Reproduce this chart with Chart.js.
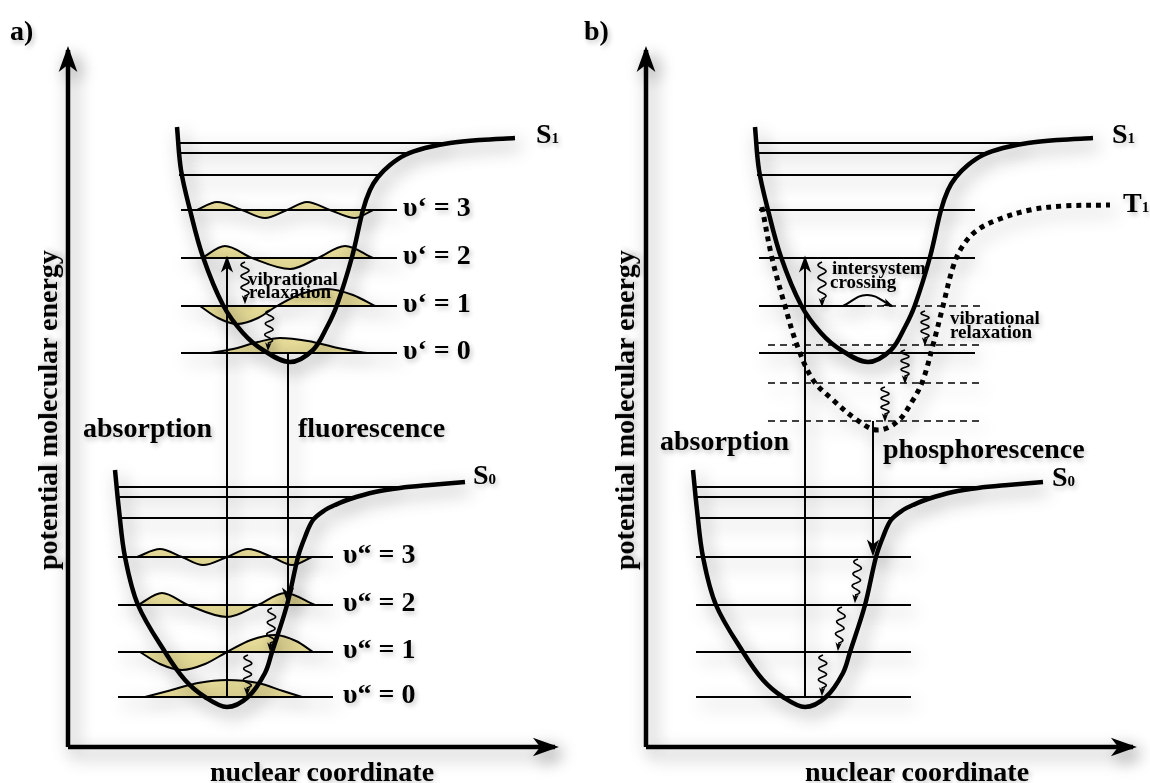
<!DOCTYPE html>
<html>
<head>
<meta charset="utf-8">
<script src="https://cdn.jsdelivr.net/npm/chart.js@4.4.1/dist/chart.umd.min.js"></script>
<style>
  html, body { margin: 0; padding: 0; background: #fff; }
  #wrap { position: relative; width: 1150px; height: 783px; overflow: hidden; background: #fff; }
  canvas { position: absolute; top: 0; }
  #chartA { left: 0; }
  #chartB { left: 578px; }
  .t { position: absolute; font: bold 28px "Liberation Serif", "Times New Roman", serif; line-height: 1;
       white-space: nowrap; color: #000; text-shadow: 2px 3px 5px rgba(0,0,0,0.22); }
  .t sub { font-size: 15px; vertical-align: baseline; }
  .small { font-size: 19px; }
  .rot { transform: translate(-50%, -50%) rotate(-90deg); }
  .cx { transform: translateX(-50%); }
</style>
</head>
<body>
<div id="wrap">
  <canvas id="chartA" width="578" height="783"></canvas>
  <canvas id="chartB" width="572" height="783"></canvas>

  <div class="t" style="left:10px;top:17px">a)</div>
  <div class="t" style="left:584px;top:17px">b)</div>
  <div class="t rot" style="left:48px;top:410px">potential molecular energy</div>
  <div class="t rot" style="left:625px;top:410px">potential molecular energy</div>
  <div class="t cx" style="left:322px;top:758px">nuclear coordinate</div>
  <div class="t cx" style="left:917px;top:758px">nuclear coordinate</div>

  <div class="t" style="left:536px;top:120px">S<sub>1</sub></div>
  <div class="t" style="left:473px;top:461px">S<sub>0</sub></div>
  <div class="t" style="left:1112px;top:120px">S<sub>1</sub></div>
  <div class="t" style="left:1052px;top:463px">S<sub>0</sub></div>
  <div class="t" style="left:1123px;top:189px">T<sub>1</sub></div>

  <div class="t" style="left:403px;top:193px">υ‘ = 3</div>
  <div class="t" style="left:403px;top:241px">υ‘ = 2</div>
  <div class="t" style="left:403px;top:289px">υ‘ = 1</div>
  <div class="t" style="left:403px;top:336px">υ‘ = 0</div>
  <div class="t" style="left:343px;top:540px">υ“ = 3</div>
  <div class="t" style="left:343px;top:588px">υ“ = 2</div>
  <div class="t" style="left:343px;top:635px">υ“ = 1</div>
  <div class="t" style="left:343px;top:680px">υ“ = 0</div>

  <div class="t" style="left:83px;top:414px">absorption</div>
  <div class="t" style="left:298px;top:414px">fluorescence</div>
  <div class="t" style="left:660px;top:427px">absorption</div>
  <div class="t" style="left:883px;top:435px">phosphorescence</div>

  <div class="t small" style="left:248px;top:269px">vibrational</div>
  <div class="t small" style="left:249px;top:282px">relaxation</div>
  <div class="t small" style="left:832px;top:258px">intersystem</div>
  <div class="t small" style="left:830px;top:272px">crossing</div>
  <div class="t small" style="left:950px;top:308px">vibrational</div>
  <div class="t small" style="left:950px;top:322px">relaxation</div>
</div>

<script>
// potential curves: [nuclear coordinate, energy]
const s1Curve = [[109,620],[113,577],[122,537],[135,490],[155,442],[175,414],[195,397],[222,385],[245,397],
  [259,420],[269,442],[284,490],[295,537],[302,557],[310,570],[322,582],[337,592],[357,599],[382,604],[412,607],[447,609]];
const s0Curve = [[47,277],[51,237],[57,190],[70,142],[97,95],[117,67],[137,50],[159,40],[180,50],[197,74],
  [204,95],[219,142],[230,190],[237,210],[245,227],[257,237],[267,242],[282,248],[307,255],[332,259],[362,262],[397,265]];
const t1Curve = [[116,540],[126,489],[139,441],[151,402],[167,367],[187,347],[211,327],[231,317],[251,325],
  [267,347],[277,367],[287,402],[297,441],[307,480],[316,500],[330,516],[351,527],[384,537],[417,541],[464,542]];

// vibrational levels (energy) and line extents
const s1Levels = [394, 441, 489, 537];          // υ' = 0..3
const s1Span = [113, 329];
const s1UpperLevels = [572, 594, 604];
const s1UpperEnds = [310, 340, 380];
const s0Levels = [50, 95, 142, 190];            // υ" = 0..3
const s0Span = [50, 265];
const s0UpperLevels = [229, 250, 260];
const s0UpperEnds = [249, 290, 330];
const t1Levels = [326, 364, 402];               // dashed triplet levels (panel b)
const t1Span = [122, 337];

// wavefunctions: [coordinate, amplitude above level]
const s1Waves = [
  [[142,0],[165,4],[190,11],[212,15],[240,12],[270,5],[299,0]],
  [[132,0],[150,-12],[169,-18],[190,-12],[209,0],[233,12],[259,17],[285,11],[307,0]],
  [[134,0],[157,12],[184,0],[222,-11],[250,0],[277,12],[305,0]],
  [[129,0],[149,8],[174,0],[197,-8],[219,0],[239,8],[262,0],[287,-8],[305,0]]
];
const s0Waves = [
  [[77,0],[100,6],[130,14],[159,17],[190,14],[215,6],[234,0]],
  [[72,0],[92,-12],[114,-18],[137,-12],[159,0],[183,12],[207,17],[228,11],[245,0]],
  [[70,0],[94,12],[120,0],[159,-12],[190,0],[217,12],[247,0]],
  [[69,0],[92,8],[114,0],[135,-8],[159,0],[180,8],[204,0],[224,-8],[244,0]]
];

// transitions
const axisY = [[0,0],[0,697]];
const axisX = [[0,0],[487,0]];
const absorptionA = [[159,50],[159,489]];
const fluorescence = [[220,394],[220,145]];
const absorptionB = [[159,50],[159,489]];
const phosphorescence = [[227,326],[227,193]];
const iscArc = [[197,441],[221,452],[246,441]];
// wavy relaxation arrows: [x1, y1, x2, y2]
const relaxA = [[177,485,177,444],[202,437,200,397],[204,139,202,97],[180,92,179,52]];
const relaxB = [[176,485,176,441],[279,436,279,402],[259,397,259,364],[239,360,239,326],
  [212,188,209,145],[196,140,192,97],[177,92,176,52]];

const YELLOW = '#efe49e';
const pts = arr => arr.map(([x, y]) => ({x, y}));

function line(data, opts) {
  return Object.assign({data: pts(data), showLine: true, borderColor: '#000', borderWidth: 2,
    pointRadius: 0, fill: false, clip: false}, opts);
}

function drawHead(ctx, x0, y0, x1, y1, len, color) {
  const a = Math.atan2(y1 - y0, x1 - x0);
  ctx.save();
  ctx.translate(x1, y1);
  ctx.rotate(a);
  ctx.beginPath();
  const tip = len * 0.15;
  ctx.moveTo(tip, 0);
  ctx.lineTo(tip - len, -len * 0.36);
  ctx.lineTo(tip - len * 0.72, 0);
  ctx.lineTo(tip - len, len * 0.36);
  ctx.closePath();
  ctx.fillStyle = color;
  ctx.fill();
  ctx.restore();
}

function drawSquiggle(ctx, x1, y1, x2, y2) {
  const L = Math.hypot(x2 - x1, y2 - y1);
  ctx.save();
  ctx.translate(x1, y1);
  ctx.rotate(Math.atan2(y2 - y1, x2 - x1));
  ctx.strokeStyle = '#000';
  ctx.lineWidth = 1.6;
  ctx.beginPath();
  const w = L - 7;
  for (let s = 0; s <= w; s += 0.5) {
    const off = 4 * Math.sin(s / w * Math.PI * 2 * 3);
    if (s === 0) ctx.moveTo(s, off); else ctx.lineTo(s, off);
  }
  ctx.lineTo(L - 3, 0);
  ctx.stroke();
  ctx.restore();
  drawHead(ctx, x1 + (x2 - x1) * 0.8, y1 + (y2 - y1) * 0.8, x2, y2, 9, '#000');
}

function decor(squiggles) {
  return {
    id: 'decor',
    beforeDatasetDraw(chart) {
      const ctx = chart.ctx;
      ctx.save();
      ctx.shadowColor = 'rgba(0,0,0,0.42)';
      ctx.shadowBlur = 18;
      ctx.shadowOffsetX = 5;
      ctx.shadowOffsetY = 7;
    },
    afterDatasetDraw(chart, args) {
      const ds = chart.data.datasets[args.index];
      const p = args.meta.data;
      if (ds.arrowHead && p.length > 1) {
        const a = p[p.length - 2], b = p[p.length - 1];
        drawHead(chart.ctx, a.x, a.y, b.x, b.y, ds.arrowHead, '#000');
      }
      chart.ctx.restore();
    },
    afterDatasetsDraw(chart) {
      const ctx = chart.ctx, xs = chart.scales.x, ys = chart.scales.y;
      ctx.save();
      ctx.shadowColor = 'rgba(0,0,0,0.3)';
      ctx.shadowBlur = 8;
      ctx.shadowOffsetX = 3;
      ctx.shadowOffsetY = 4;
      squiggles.forEach(([x1, y1, x2, y2]) => {
        drawSquiggle(ctx, xs.getPixelForValue(x1), ys.getPixelForValue(y1),
          xs.getPixelForValue(x2), ys.getPixelForValue(y2));
      });
      ctx.restore();
    }
  };
}

function waveSets(waves, levels) {
  return waves.map((w, i) => line(w.map(([x, a]) => [x, levels[i] + a]), {
    fill: {value: levels[i]}, backgroundColor: YELLOW, borderWidth: 2,
    cubicInterpolationMode: 'monotone', order: 6
  }));
}

function levelSets(levels, x0, ends, opts) {
  return levels.map((l, i) => line([[x0, l], [Array.isArray(ends) ? ends[i] : ends, l]],
    Object.assign({borderWidth: 2, order: 5}, opts)));
}

function curve(data, opts) {
  return line(data, Object.assign({borderWidth: 4.5, tension: 0.35, order: 3}, opts));
}

function axes() {
  return [
    line(axisY, {borderWidth: 4.5, arrowHead: 26, order: 1}),
    line(axisX, {borderWidth: 4.5, arrowHead: 26, order: 1})
  ];
}

function makeChart(id, width, datasets, squiggles) {
  return new Chart(document.getElementById(id), {
    type: 'scatter',
    data: {datasets},
    options: {
      responsive: false,
      animation: false,
      devicePixelRatio: 1,
      events: [],
      layout: {padding: 0},
      scales: {
        x: {type: 'linear', display: false, min: -68, max: width - 68},
        y: {type: 'linear', display: false, min: -36, max: 747}
      },
      plugins: {legend: {display: false}, tooltip: {enabled: false}}
    },
    plugins: [decor(squiggles)]
  });
}

// panel a: fluorescence
makeChart('chartA', 578, [
  ...waveSets(s1Waves, s1Levels),
  ...waveSets(s0Waves, s0Levels),
  ...levelSets(s1Levels, s1Span[0], s1Span[1]),
  ...levelSets(s1UpperLevels, 111, s1UpperEnds),
  ...levelSets(s0Levels, s0Span[0], s0Span[1]),
  ...levelSets(s0UpperLevels, s0Span[0], s0UpperEnds),
  curve(s1Curve),
  curve(s0Curve),
  line(absorptionA, {arrowHead: 17, order: 2}),
  line(fluorescence, {arrowHead: 17, order: 2}),
  ...axes()
], relaxA);

// panel b: intersystem crossing / phosphorescence
makeChart('chartB', 572, [
  ...levelSets([s1Levels[0], s1Levels[2], s1Levels[3]], s1Span[0], s1Span[1]),
  line([[s1Span[0], s1Levels[1]], [219, s1Levels[1]]], {order: 5}),
  line([[219, s1Levels[1]], [t1Span[1], s1Levels[1]]], {borderWidth: 1.5, borderDash: [7, 5], order: 5}),
  ...levelSets(t1Levels, t1Span[0], t1Span[1], {borderWidth: 1.5, borderDash: [7, 5]}),
  ...levelSets(s1UpperLevels, 111, s1UpperEnds),
  ...levelSets(s0Levels, s0Span[0], s0Span[1]),
  ...levelSets(s0UpperLevels, s0Span[0], s0UpperEnds),
  curve(s1Curve),
  curve(t1Curve, {borderWidth: 5, borderDash: [5, 5]}),
  curve(s0Curve),
  line(absorptionB, {arrowHead: 17, order: 2}),
  line(phosphorescence, {arrowHead: 17, order: 2}),
  line(iscArc, {tension: 0.45, arrowHead: 11, order: 2}),
  ...axes()
], relaxB);
</script>
</body>
</html>
